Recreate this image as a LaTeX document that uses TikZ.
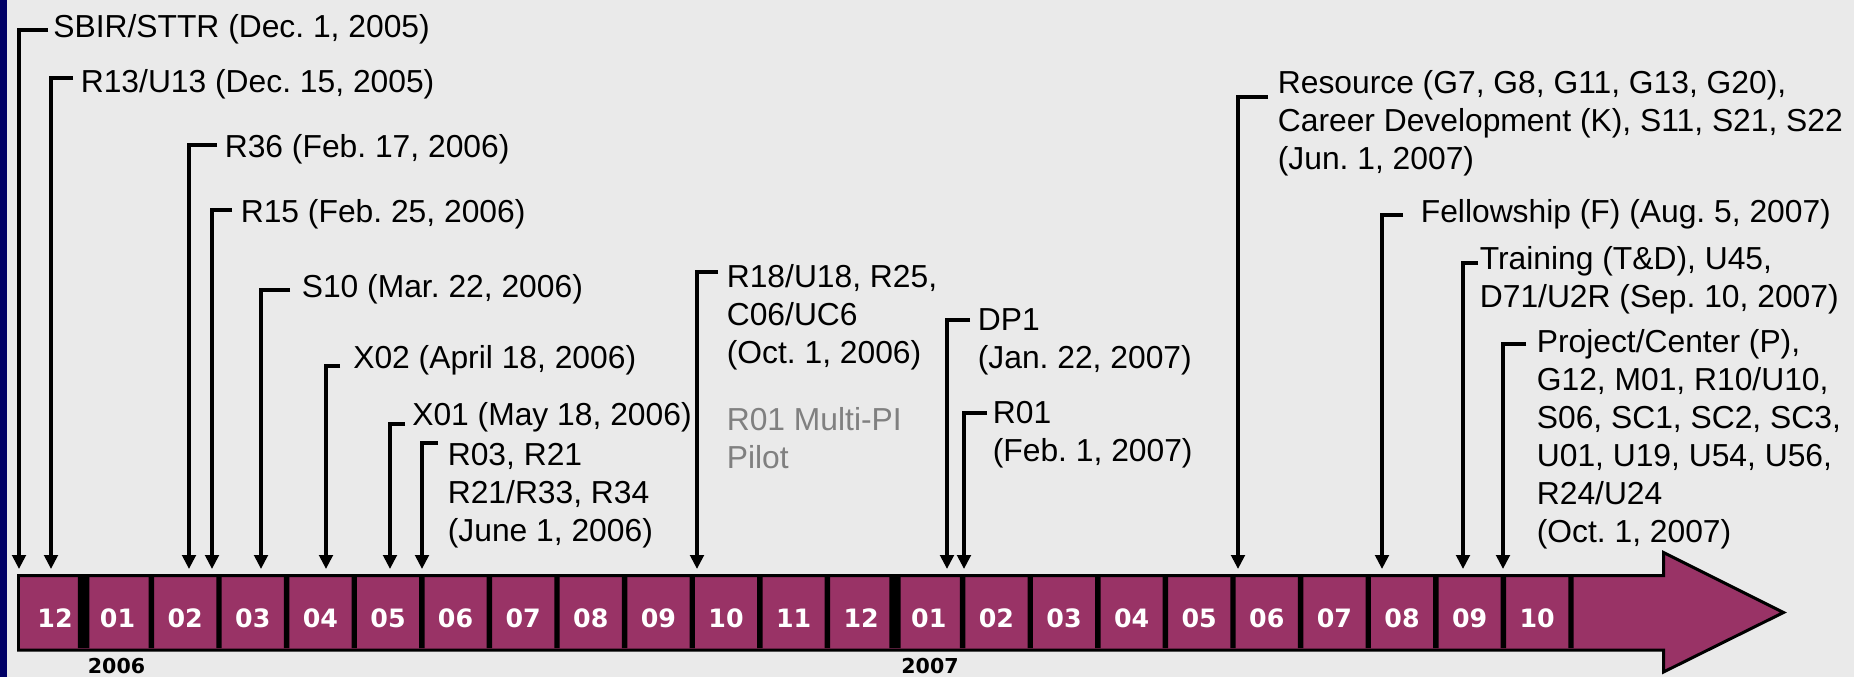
\documentclass[tikz,border=0pt]{standalone}
\usepackage{fontspec}
\setmainfont{Liberation Sans}
\newfontfamily\monthfont{DejaVu Sans}
\usepackage{tikz}
\usetikzlibrary{arrows.meta}
\definecolor{plum}{HTML}{993366}
\definecolor{paper}{HTML}{EAEAEA}
\definecolor{navy}{HTML}{000066}
\definecolor{pilotgrey}{HTML}{808080}
\frenchspacing
\tikzset{
	lbl/.style={anchor=base west,inner sep=0pt,align=left,font=\fontsize{18.1}{21.6}\selectfont},
	month/.style={anchor=base,inner sep=0pt,text=white,font=\monthfont\bfseries\fontsize{14.4}{16}\selectfont},
	yr/.style={anchor=base,inner sep=0pt,font=\monthfont\bfseries\fontsize{11.7}{14}\selectfont},
	evt/.style={draw,line width=1.9pt,-{Triangle[length=0.28cm,width=0.27cm]}}
}

\begin{document}
\begin{tikzpicture}[x=0.02cm,y=-0.02cm]
		\useasboundingbox (0,0) rectangle (1854,677);
		\fill[paper] (0,0) rectangle (1854,677);
		\fill[navy] (0,0) rectangle (7,677);
		%
		\draw[line width=1.7pt,fill=plum] (18.5,575.5) -- (1663.5,575.5) -- (1663.5,552.5) -- (1783.5,612.5) -- (1663.5,672) -- (1663.5,650) -- (18.5,650) -- cycle;
		\fill (77.8,577) rectangle ++(11.6,71) (889.3,577) rectangle ++(11.4,71)
		(148.7,577) rectangle ++(5.4,71) (216.3,577) rectangle ++(5.4,71)
		(283.9,577) rectangle ++(5.4,71) (351.5,577) rectangle ++(5.4,71)
		(419.1,577) rectangle ++(5.4,71) (486.7,577) rectangle ++(5.4,71)
		(554.3,577) rectangle ++(5.4,71) (621.9,577) rectangle ++(5.4,71)
		(689.5,577) rectangle ++(5.4,71) (757.1,577) rectangle ++(5.4,71)
		(824.7,577) rectangle ++(5.4,71) (959.9,577) rectangle ++(5.4,71)
		(1027.5,577) rectangle ++(5.4,71) (1095.1,577) rectangle ++(5.4,71)
		(1162.7,577) rectangle ++(5.4,71) (1230.3,577) rectangle ++(5.4,71)
		(1297.9,577) rectangle ++(5.4,71) (1365.5,577) rectangle ++(5.4,71)
		(1433.1,577) rectangle ++(5.4,71) (1500.7,577) rectangle ++(5.4,71)
		(1568.3,577) rectangle ++(5.4,71);
		%
		\node[month] (dec05) at (55,627) {12};
		\node[month] (jan06) at (117.6,627) {01};
		\node[month] (feb06) at (185.2,627) {02};
		\node[month] (mar06) at (252.8,627) {03};
		\node[month] (apr06) at (320.4,627) {04};
		\node[month] (may06) at (388,627) {05};
		\node[month] (jun06) at (455.6,627) {06};
		\node[month] (jul06) at (523.2,627) {07};
		\node[month] (aug06) at (590.8,627) {08};
		\node[month] (sep06) at (658.4,627) {09};
		\node[month] (oct06) at (726,627) {10};
		\node[month] (nov06) at (793.6,627) {11};
		\node[month] (dec06) at (861.2,627) {12};
		\node[month] (jan07) at (928.8,627) {01};
		\node[month] (feb07) at (996.4,627) {02};
		\node[month] (mar07) at (1064,627) {03};
		\node[month] (apr07) at (1131.6,627) {04};
		\node[month] (may07) at (1199.2,627) {05};
		\node[month] (jun07) at (1266.8,627) {06};
		\node[month] (jul07) at (1334.4,627) {07};
		\node[month] (aug07) at (1402,627) {08};
		\node[month] (sep07) at (1469.6,627) {09};
		\node[month] (oct07) at (1537.2,627) {10};
		\node[yr] (y2006) at (116.5,673) {2006};
		\node[yr] (y2007) at (930,673) {2007};
		%
		% multi-line labels sit on their last baseline
		\node[lbl] (sbir) at (53,37) {SBIR/STTR (Dec. 1, 2005)};
		\node[lbl] (r13) at (80.5,92) {R13/U13 (Dec. 15, 2005)};
		\node[lbl] (r36) at (224.5,157) {R36 (Feb. 17, 2006)};
		\node[lbl] (r15) at (240.5,222) {R15 (Feb. 25, 2006)};
		\node[lbl] (s10) at (301.5,297) {S10 (Mar. 22, 2006)};
		\node[lbl] (x02) at (353,368) {X02 (April 18, 2006)};
		\node[lbl] (x01) at (412,425) {X01 (May 18, 2006)};
		\node[lbl] (r03) at (447.5,541.2) {R03, R21\\R21/R33, R34\\(June 1, 2006)};
		\node[lbl] (r18) at (726.5,363.2) {R18/U18, R25,\\C06/UC6\\(Oct. 1, 2006)};
		\node[lbl,text=pilotgrey] (pilot) at (726.5,468.1) {R01 Multi-PI\\Pilot};
		\node[lbl] (dp1) at (977.5,368.1) {DP1\\(Jan. 22, 2007)};
		\node[lbl] (r01) at (992.5,461.1) {R01\\(Feb. 1, 2007)};
		\node[lbl] (res) at (1277.5,169.2) {Resource (G7, G8, G11, G13, G20),\\Career Development (K), S11, S21, S22\\(Jun. 1, 2007)};
		\node[lbl] (fel) at (1420.5,222) {Fellowship (F) (Aug. 5, 2007)};
		\node[lbl] (trn) at (1479.5,307.1) {Training (T\&D), U45,\\D71/U2R (Sep. 10, 2007)};
		\node[lbl] (prj) at (1536.5,542.5) {Project/Center (P),\\G12, M01, R10/U10,\\S06, SC1, SC2, SC3,\\U01, U19, U54, U56,\\R24/U24\\(Oct. 1, 2007)};
		%
		\coordinate (sbir') at (19,569);
		\coordinate (r13') at (51,569);
		\coordinate (r36') at (189,569);
		\coordinate (r15') at (212,569);
		\coordinate (s10') at (261,569);
		\coordinate (x02') at (326,569);
		\coordinate (x01') at (390,569);
		\coordinate (r03') at (422,569);
		\coordinate (r18') at (697,569);
		\coordinate (dp1') at (947,569);
		\coordinate (r01') at (964,569);
		\coordinate (res') at (1238,569);
		\coordinate (fel') at (1382,569);
		\coordinate (trn') at (1463,569);
		\coordinate (prj') at (1503,569);
		%
		\draw[evt] ([shift={(-5,-7)}]sbir.base west) -| (sbir');
		\draw[evt] ([shift={(-7.5,-14)}]r13.base west) -| (r13');
		\draw[evt] ([shift={(-7.5,-12)}]r36.base west) -| (r36');
		\draw[evt] ([shift={(-8.5,-12)}]r15.base west) -| (r15');
		\draw[evt] ([shift={(-11.5,-7)}]s10.base west) -| (s10');
		\draw[evt] ([shift={(-13,-2)}]x02.base west) -| (x02');
		\draw[evt] ([shift={(-7,-1)}]x01.base west) -| (x01');
		\draw[evt] ([shift={(-9.5,-98.2)}]r03.base west) -| (r03');
		\draw[evt] ([shift={(-8.5,-91.2)}]r18.base west) -| (r18');
		\draw[evt] ([shift={(-7.5,-48.1)}]dp1.base west) -| (dp1');
		\draw[evt] ([shift={(-5.5,-48.1)}]r01.base west) -| (r01');
		\draw[evt] ([shift={(-9.5,-72.2)}]res.base west) -| (res');
		\draw[evt] ([shift={(-17.5,-7)}]fel.base west) -| (fel');
		\draw[evt] ([shift={(-1.5,-44.1)}]trn.base west) -| (trn');
		\draw[evt] ([shift={(-10.5,-198.5)}]prj.base west) -| (prj');
\end{tikzpicture}
\end{document}
